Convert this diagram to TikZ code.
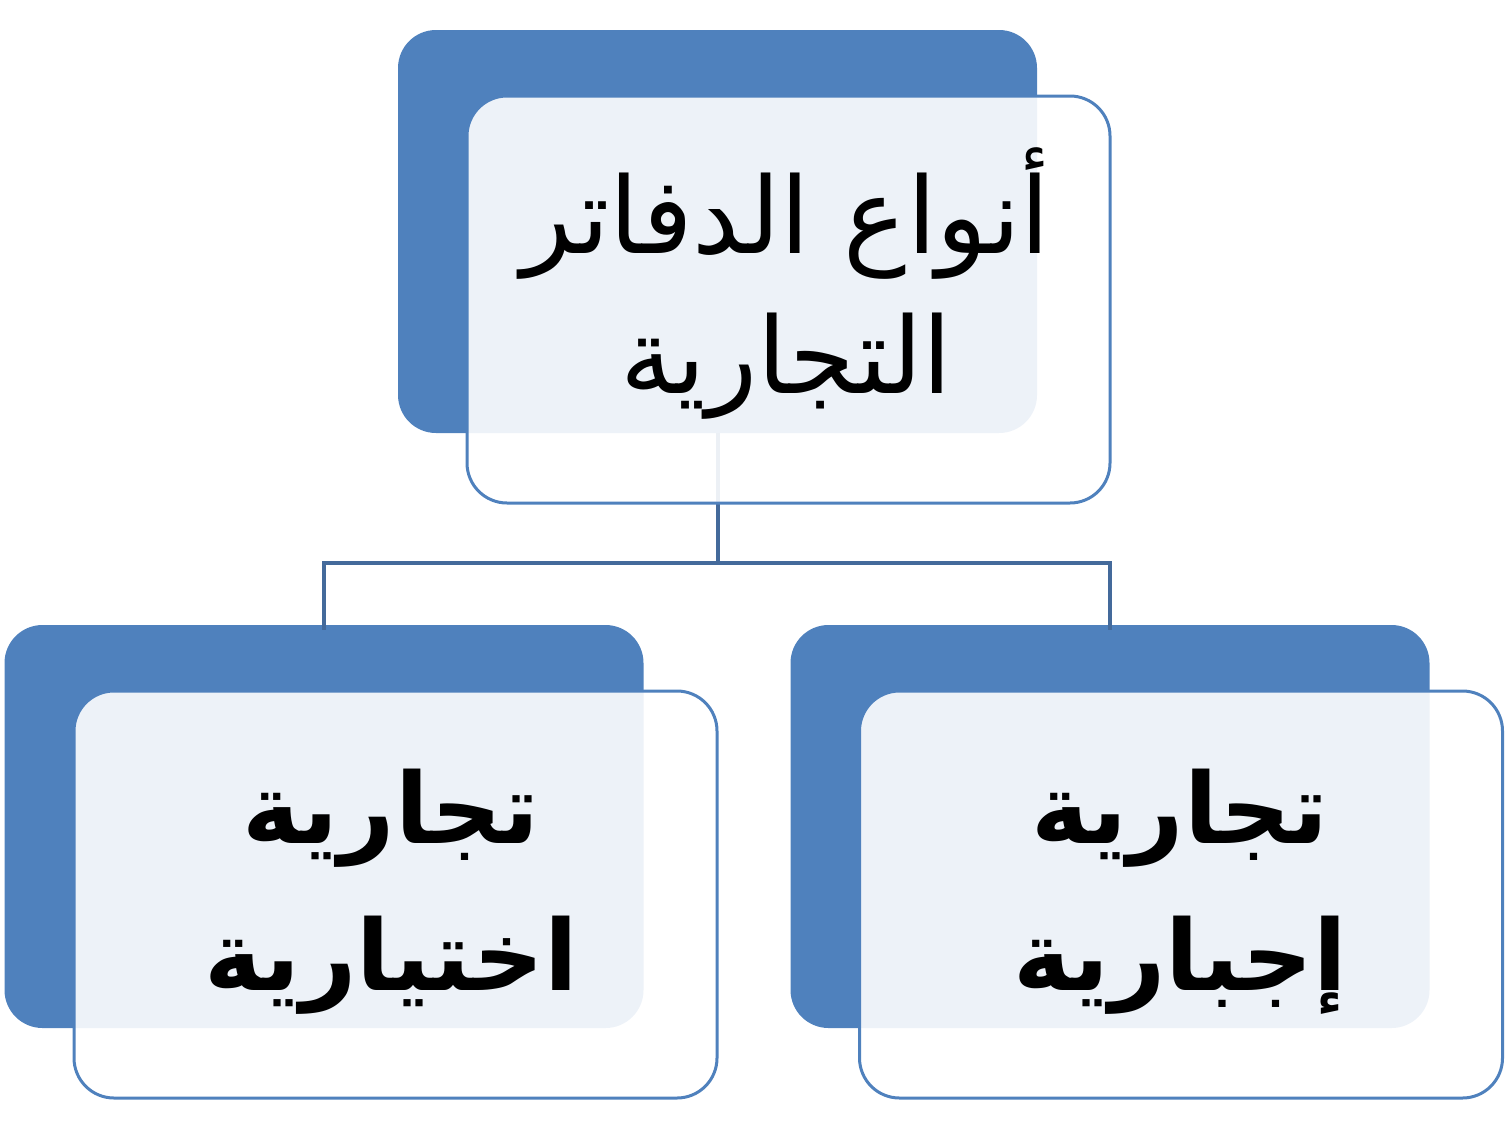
\documentclass[tikz,border=0pt]{standalone}
\usepackage{fontspec}
\newfontfamily\arabicfont[Script=Arabic]{DejaVu Sans}
\TeXXeTstate=1
\definecolor{boxblue}{RGB}{79,129,189}
\definecolor{linkblue}{RGB}{68,106,155}
\begin{document}
\begin{tikzpicture}[x=1pt,y=-1pt,
  back/.style={fill=boxblue, draw=none, rounded corners=38pt, inner sep=0pt,
    minimum width=639pt, minimum height=403pt},
  front/.style={fill=white, fill opacity=0.9, draw=boxblue, line width=3pt,
    rounded corners=40pt, inner sep=0pt, minimum width=643pt, minimum height=407pt},
  toptext/.style={inner sep=0pt, align=center, font=\arabicfont\fontsize{106}{140}\selectfont},
  subtext/.style={inner sep=0pt, align=center, font=\arabicfont\bfseries\fontsize{98}{147}\selectfont},
  link/.style={draw=linkblue, line width=4pt}]
\useasboundingbox (0,0) rectangle (1506,1127);
% back boxes
\node[back] (topb) at (717.5,231.5) {};
\node[back] (leftb) at (324,826.5) {};
\node[back] (rightb) at (1110,826.5) {};
% connectors (behind front boxes)
\path[link] (topb.south) -- ++(0,130) coordinate (mid) -| ([yshift=-5pt]leftb.north);
\path[link] (mid) -| ([yshift=-5pt]rightb.north);
% front boxes
\node[front] (topf) at (788.5,299.5) {};
\node[front] (leftf) at (395.5,894.5) {};
\node[front] (rightf) at (1181,894.5) {};
% texts
\node[toptext] (topt) at (786,284)
  {\beginR أنواع الدفاتر\endR\\\beginR التجارية\endR};
\node[subtext] (leftt) at (391,892)
  {\beginR تجارية\endR\\\beginR اختيارية\endR};
\node[subtext] (rightt) at (1180,892)
  {\beginR تجارية\endR\\\beginR إجبارية\endR};
\end{tikzpicture}
\end{document}
